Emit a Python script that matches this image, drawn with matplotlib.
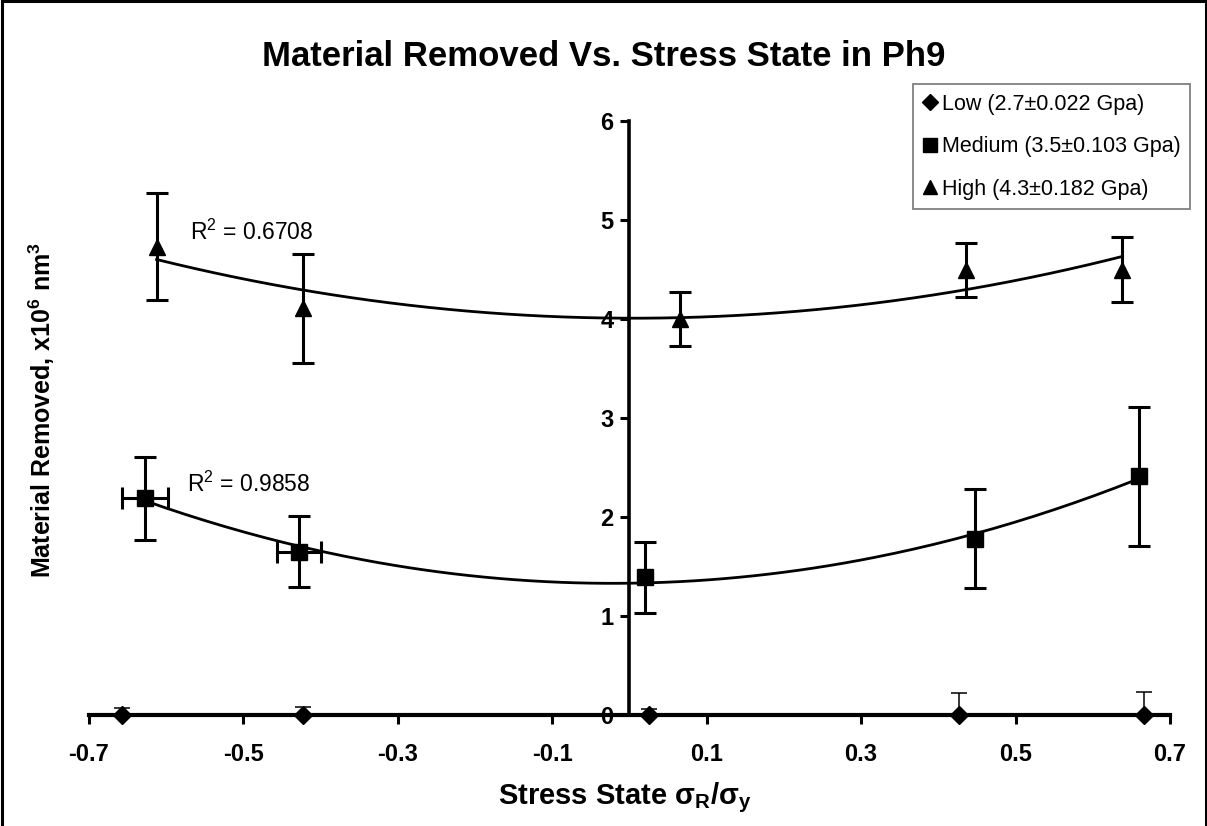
import numpy as np
import matplotlib
matplotlib.use("Agg")
import matplotlib.pyplot as plt
from matplotlib.lines import Line2D
from matplotlib.patches import Rectangle

plt.rcParams['font.family'] = ['Liberation Sans', 'DejaVu Sans']
plt.rcParams['mathtext.fontset'] = 'custom'
plt.rcParams['mathtext.rm'] = 'Liberation Sans'
plt.rcParams['mathtext.it'] = 'Liberation Sans:italic'
plt.rcParams['mathtext.bf'] = 'Liberation Sans:bold'

# --- DATA ---
# stress state sigma_R/sigma_y, material removed (x10^6 nm^3), std dev
low_x = [-0.657, -0.422, 0.025, 0.427, 0.666]
low_y = [0.0, 0.0, 0.0, 0.0, 0.0]
low_err = [0.07, 0.085, 0.06, 0.225, 0.235]

med_x = [-0.627, -0.427, 0.020, 0.447, 0.660]
med_y = [2.19, 1.65, 1.39, 1.78, 2.41]
med_err = [0.42, 0.36, 0.36, 0.50, 0.70]
med_xerr = [0.030, 0.0285, 0.0, 0.0, 0.0]

high_x = [-0.612, -0.422, 0.065, 0.436, 0.638]
high_y = [4.73, 4.11, 4.00, 4.495, 4.50]
high_err = [0.54, 0.55, 0.27, 0.27, 0.33]

labels = ["Low (2.7\u00b10.022 Gpa)", "Medium (3.5\u00b10.103 Gpa)", "High (4.3\u00b10.182 Gpa)"]
r2_med = "0.9858"
r2_high = "0.6708"

xticks = [-0.7, -0.5, -0.3, -0.1, 0.1, 0.3, 0.5, 0.7]
xticklabels = ["-0.7", "-0.5", "-0.3", "-0.1", "0.1", "0.3", "0.5", "0.7"]
yticks = [0, 1, 2, 3, 4, 5, 6]
yticklabels = ["0", "1", "2", "3", "4", "5", "6"]

W, H = 1207, 826
fig = plt.figure(figsize=(W / 100, H / 100), dpi=100)
ax = fig.add_axes([88.6 / W, 1 - 715 / H, (1170 - 88.6) / W, (715 - 121) / H])

# axis lines: y axis crosses at x = 0
ax.spines['top'].set_visible(False)
ax.spines['right'].set_visible(False)
ax.spines['left'].set_position(('data', 0))
ax.spines['left'].set_linewidth(2.6)
ax.spines['bottom'].set_linewidth(3.0)
ax.spines['left'].set_zorder(4)
ax.spines['bottom'].set_zorder(4)

# quadratic trend lines
def trend(xs, ys):
    c = np.polyfit(xs, ys, 2)
    xx = np.linspace(min(xs), max(xs), 200)
    return xx, np.polyval(c, xx)

for xs, ys in [(med_x, med_y), (high_x, high_y)]:
    tx, ty = trend(xs, ys)
    ax.plot(tx, ty, color='black', lw=2.0, zorder=3)

# error bars
ax.errorbar(low_x, low_y, yerr=low_err, fmt='none', ecolor='black',
            elinewidth=1.1, capsize=6, capthick=1.1, zorder=2)
ax.errorbar(med_x, med_y, yerr=med_err, fmt='none', ecolor='black',
            elinewidth=2.2, capsize=8, capthick=2.2, zorder=2)
mx = [x for x, e in zip(med_x, med_xerr) if e > 0]
my = [y for y, e in zip(med_y, med_xerr) if e > 0]
me = [e for e in med_xerr if e > 0]
ax.errorbar(mx, my, xerr=me, fmt='none', ecolor='black',
            elinewidth=2.2, capsize=8, capthick=2.2, zorder=2)
ax.errorbar(high_x, high_y, yerr=high_err, fmt='none', ecolor='black',
            elinewidth=2.2, capsize=8, capthick=2.2, zorder=2)

# markers
ax.plot(low_x, low_y, 'D', color='black', ms=9, ls='none', zorder=5, clip_on=False)
ax.plot(med_x, med_y, 's', color='black', ms=11, ls='none', zorder=5)
ax.plot(high_x, high_y, '^', color='black', ms=11, ls='none', zorder=5)

ax.text(-0.569, 4.80, r"R$^2$ = " + r2_high, fontsize=16.5, va='baseline', ha='left')
ax.text(-0.573, 2.25, r"R$^2$ = " + r2_med, fontsize=16.5, va='baseline', ha='left')

ax.set_xlim(-0.7, 0.7)
ax.set_ylim(0, 6)
ax.set_xticks(xticks, xticklabels, fontsize=17, fontweight='bold')
ax.set_yticks(yticks, yticklabels, fontsize=17, fontweight='bold')
ax.tick_params(axis='x', direction='out', length=6.5, width=2.2, pad=14)
ax.tick_params(axis='y', direction='out', length=6.5, width=2.2, pad=5)

handles = [
    Line2D([], [], marker='D', color='black', ls='none', ms=8),
    Line2D([], [], marker='s', color='black', ls='none', ms=10),
    Line2D([], [], marker='^', color='black', ls='none', ms=10),
]
leg = fig.legend(handles, labels, loc='upper right', bbox_to_anchor=(1190 / W, 1 - 84 / H),
                 fontsize=15.5, frameon=True, fancybox=False, edgecolor='#808080',
                 framealpha=1, handlelength=0.7, handletextpad=0.2, labelspacing=1.0,
                 borderpad=0.45, borderaxespad=0)
leg.get_frame().set_linewidth(1.3)

fig.text(0.5, 1 - 57 / H, "Material Removed Vs. Stress State in Ph9",
         fontsize=25, fontweight='bold', ha='center', va='center')
fig.text(42 / W, 1 - 410 / H, r"Material Removed, x10$^\mathbf{6}$ nm$^\mathbf{3}$",
         fontsize=18, fontweight='bold', rotation=90, ha='center', va='center')
fig.text(625 / W, 1 - 798 / H, r"Stress State $\mathbf{\sigma_R/\sigma_y}$",
         fontsize=21, fontweight='bold', ha='center', va='center')

# outer chart frame
fig.patches.append(Rectangle((1.5 / W, -0.05), (W - 3) / W, 1.05 - 1.5 / H,
                             transform=fig.transFigure, fill=False,
                             edgecolor='black', lw=2.2))

fig.savefig("out.png", dpi=100)
